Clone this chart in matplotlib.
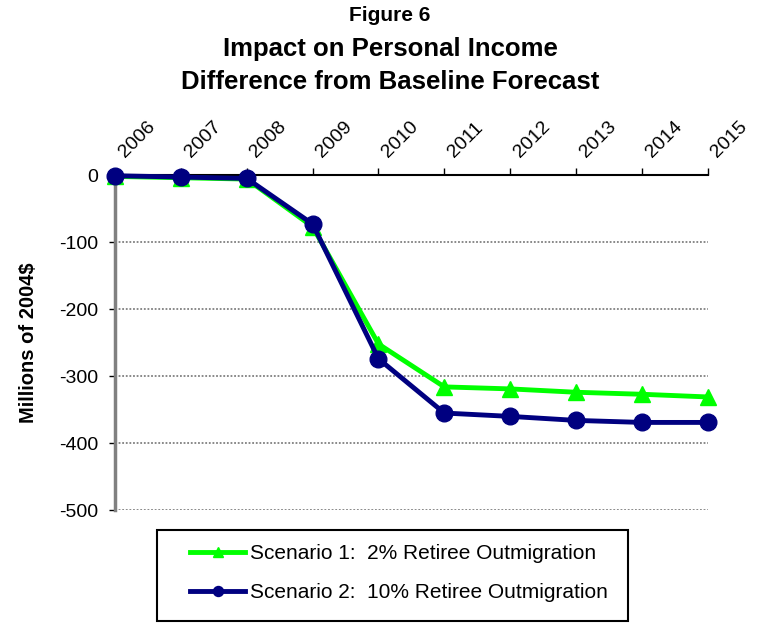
import matplotlib.pyplot as plt
from matplotlib.patches import Rectangle
from matplotlib.transforms import ScaledTranslation

# ----- data -----
years = [2006, 2007, 2008, 2009, 2010, 2011, 2012, 2013, 2014, 2015]
scenario1 = [-2, -4, -6, -77, -252, -316, -319, -324, -327, -331]
scenario2 = [-1, -3, -5, -73, -274, -355, -360, -366, -369, -369]
yticks = [0, -100, -200, -300, -400, -500]

label1 = "Scenario 1:  2% Retiree Outmigration"
label2 = "Scenario 2:  10% Retiree Outmigration"

font = "Liberation Sans"

fig = plt.figure(figsize=(7.59, 6.23), dpi=100)
ax = fig.add_axes([0.1515, 0.181, 0.781, 0.538])

ax.plot(years, scenario1, color="#00FF00", lw=3.5, marker="^", ms=12,
        label=label1, clip_on=False, zorder=3)
ax.plot(years, scenario2, color="#000080", lw=3.5, marker="o", ms=12,
        label=label2, clip_on=False, zorder=4)

ax.set_xlim(2006, 2015)
ax.set_ylim(-500, 0)

# dotted grid lines
for v in yticks[1:]:
    ax.axhline(v, color="#808080", lw=1.3, ls=(0, (1, 1)), zorder=1)

for s in ["right", "bottom"]:
    ax.spines[s].set_visible(False)
ax.spines["top"].set_color("black")
ax.spines["top"].set_linewidth(1.5)
ax.spines["left"].set_color("#808080")
ax.spines["left"].set_linewidth(2.5)

ax.xaxis.tick_top()
ax.set_xticks(years)
ax.set_xticklabels([str(y) for y in years], rotation=45, ha="left",
                   va="bottom", rotation_mode="anchor", fontsize=14, family=font)
ax.tick_params(axis="x", direction="out", length=5, width=1, pad=5)
shift = ScaledTranslation(9 / 72, 0, fig.dpi_scale_trans)
for lab in ax.get_xticklabels():
    lab.set_transform(lab.get_transform() + shift)

ax.set_yticks(yticks)
ax.set_yticklabels([str(v) for v in yticks], fontsize=14, family=font)
ax.tick_params(axis="y", direction="out", length=4, width=1, color="black", pad=8)

ax.set_ylabel("Millions of 2004$", fontsize=14.5, fontweight="bold", family=font)
ax.yaxis.set_label_coords(-0.13, 0.5)

fig.text(0.514, 0.99, "Figure 6", ha="center", va="top", fontsize=15,
         fontweight="bold", family=font)
fig.text(0.514, 0.94, "Impact on Personal Income\nDifference from Baseline Forecast",
         ha="center", va="top", fontsize=18.5, fontweight="bold", family=font,
         linespacing=1.45)

# legend box drawn by hand (Excel style padding)
fig.patches.append(Rectangle((157 / 759, 1 - 621 / 623), 471 / 759, 91 / 623,
                             transform=fig.transFigure, fill=False,
                             edgecolor="black", lw=1.5))
fig.legend(loc="center left", bbox_to_anchor=(180 / 759, 1 - 573 / 623),
           prop={"family": font, "size": 15}, frameon=False,
           markerscale=0.6, handlelength=2.6, borderpad=0,
           labelspacing=0.95, handletextpad=0.25)

fig.savefig("out.png", dpi=100)
